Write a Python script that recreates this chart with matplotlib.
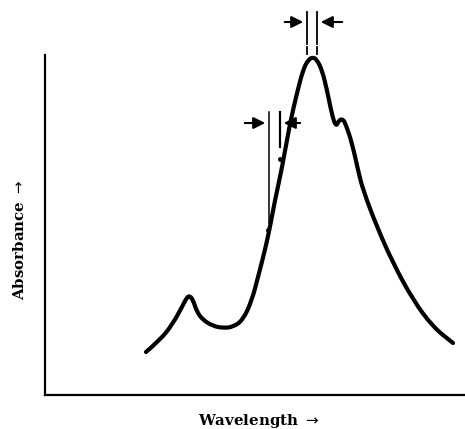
import numpy as np
import matplotlib.pyplot as plt
from matplotlib.path import Path
from matplotlib.patches import PathPatch

# spectrum (arbitrary units)
wavelength = [101, 115, 127, 137, 142, 145, 148, 152, 158, 168, 178, 188, 198, 207,
              213, 220, 225, 230, 237, 245, 252, 258, 263, 268, 272, 277, 282, 287,
              291, 294, 298, 301, 307, 313, 318, 332, 348, 368, 388, 408]
absorbance = [43, 55, 70, 88, 98, 99, 95, 83, 75, 69, 67, 68, 75, 95,
              118, 145, 168, 195, 227, 272, 302, 325, 335, 338, 335, 325, 305, 280,
              268, 275, 276, 270, 252, 225, 205, 168, 132, 95, 68, 52]

# bandwidth markers
peak_band = [262, 272]
slope_band = [224, 235]

fig = plt.figure(figsize=(4.65, 4.29), dpi=100)
ax = fig.add_axes([45 / 465, 34 / 429, 420 / 465, 395 / 429])
ax.set_xlim(0, 420)
ax.set_ylim(0, 395)

# smooth pen-like trace: read points used as quadratic bezier controls
pts = np.column_stack([wavelength, absorbance]).astype(float)
verts = [pts[0]]
codes = [Path.MOVETO]
for i in range(1, len(pts) - 1):
    verts += [pts[i], (pts[i] + pts[i + 1]) / 2]
    codes += [Path.CURVE3, Path.CURVE3]
verts.append(pts[-1])
codes.append(Path.LINETO)
ax.add_patch(PathPatch(Path(verts, codes), fill=False, lw=3.0, ec='black',
                       capstyle='round', joinstyle='round'))

for s in ['top', 'right']:
    ax.spines[s].set_visible(False)
ax.spines['left'].set_bounds(0, 340)
ax.spines['left'].set_linewidth(1.6)
ax.spines['bottom'].set_linewidth(1.6)
ax.set_xticks([])
ax.set_yticks([])

arrow = dict(arrowstyle='-|>,head_length=0.7,head_width=0.35', color='black', lw=1.5)

# band edges at the peak
for x in peak_band:
    ax.plot([x, x], [351, 383], color='black', lw=1.3, clip_on=False)
    ax.plot([x, x], [341, 348], color='black', lw=1.3, clip_on=False)
ax.annotate('', xy=(peak_band[0] - 1, 373), xytext=(237, 373), arrowprops=arrow)
ax.annotate('', xy=(peak_band[1] + 1, 373), xytext=(300, 373), arrowprops=arrow)

# band edges on the slope
ax.plot([slope_band[0], slope_band[0]], [172, 283], color='black', lw=1.1)
ax.plot([slope_band[1], slope_band[1]], [248, 283], color='black', lw=1.6)
ax.plot([slope_band[0] - 1, slope_band[1]], [165, 236], 'o', color='black', ms=2.5)
ax.annotate('', xy=(slope_band[0] - 1, 272), xytext=(197, 272), arrowprops=arrow)
ax.annotate('', xy=(slope_band[1] + 1, 272), xytext=(258, 272), arrowprops=arrow)

fig.text(20 / 465, 1 - 240 / 429, 'Absorbance $\\rightarrow$', rotation=90,
         ha='center', va='center', fontsize=10.8, fontweight='bold', family='DejaVu Serif')
fig.text(259 / 465, 1 - 421 / 429, 'Wavelength $\\rightarrow$',
         ha='center', va='center', fontsize=10.8, fontweight='bold', family='DejaVu Serif')

fig.savefig('out.png', dpi=100)
